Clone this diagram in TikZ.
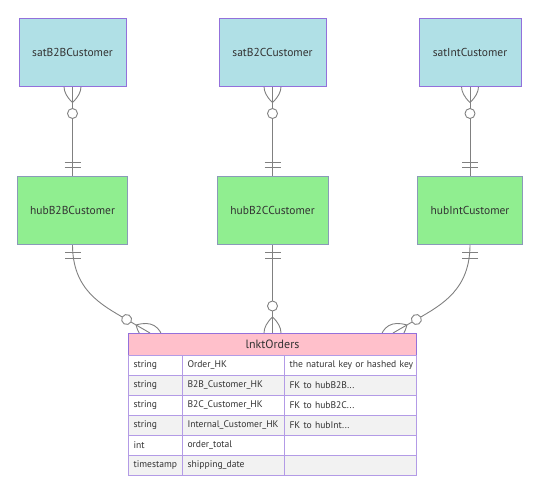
\documentclass[tikz,border=0pt]{standalone}
\usepackage{fontspec}
\setmainfont{PT Sans}
\usetikzlibrary{backgrounds}
\definecolor{satfill}{HTML}{B0E0E6}
\definecolor{hubfill}{HTML}{90EE90}
\definecolor{headfill}{HTML}{FFC0CB}
\definecolor{entline}{HTML}{9370DB}
\definecolor{hubline}{HTML}{8A9AB8}
\definecolor{rowgray}{HTML}{F2F2F2}
\definecolor{txt}{HTML}{333333}
\definecolor{relgray}{HTML}{808080}
\begin{document}
\begin{tikzpicture}[
  x=1pt, y=-1pt,
  ent/.style={rectangle, draw=entline, line width=1pt, minimum height=68pt,
              inner sep=0pt, text=txt, font=\fontsize{11.5}{14}\selectfont},
  sat/.style={ent, fill=satfill},
  hub/.style={ent, fill=hubfill, draw=hubline},
  head/.style={rectangle, draw=entline, line width=1pt, fill=headfill,
               minimum width=288pt, minimum height=22pt, inner sep=0pt,
               outer sep=0pt, text=txt, font=\fontsize{12}{14}\selectfont},
  cell/.style={rectangle, draw=entline!70, line width=0.8pt, fill=white,
               anchor=north west, inner xsep=5pt, inner ysep=0pt, outer sep=0pt,
               minimum height=20pt, align=left, text=txt,
               font=\fontsize{9.6}{11}\selectfont},
  even/.style={fill=rowgray},
  ca/.style={cell, text width=44pt},
  cb/.style={cell, text width=92pt},
  cc/.style={cell, text width=122pt},
  rel/.style={draw=relgray, line width=0.9pt},
  zmany/.pic={
    \draw[rel] (16,0) .. controls (5.33,11.33) and (-5.33,11.33) .. (-16,0)
               .. controls (-5.33,-11.33) and (5.33,-11.33) .. (16,0);
    \draw[rel, fill=white] (27,0) circle (5pt);
  },
  onlyone/.pic={
    \draw[rel] (8,-8) -- (8,8) (13.5,-8) -- (13.5,8);
  },
]
  \useasboundingbox (0,0) rectangle (540,493);
  \node[sat, minimum width=107pt] (satB2B) at (72.5,52) {satB2BCustomer};
  \node[sat, minimum width=107pt] (satB2C) at (272.5,52) {satB2CCustomer};
  \node[sat, minimum width=102pt] (satInt) at (470,52) {satIntCustomer};
  \node[hub, minimum width=110pt] (hubB2B) at (72.5,210) {hubB2BCustomer};
  \node[hub, minimum width=111pt] (hubB2C) at (272.5,210) {hubB2CCustomer};
  \node[hub, minimum width=105pt] (hubInt) at (470,210) {hubIntCustomer};
  % link table
  \node[head] (orders) at (272.5,344) {lnktOrders};
  \node[ca] (r1a) at (orders.south west) {string};
  \node[cb] (r1b) at (r1a.north east) {Order\_HK};
  \node[cc] (r1c) at (r1b.north east) {\mbox{the natural key or hashed key}};
  \node[ca, even] (r2a) at (r1a.south west) {string};
  \node[cb, even] (r2b) at (r2a.north east) {B2B\_Customer\_HK};
  \node[cc, even] (r2c) at (r2b.north east) {FK to hubB2B...};
  \node[ca] (r3a) at (r2a.south west) {string};
  \node[cb] (r3b) at (r3a.north east) {B2C\_Customer\_HK};
  \node[cc] (r3c) at (r3b.north east) {FK to hubB2C...};
  \node[ca, even] (r4a) at (r3a.south west) {string};
  \node[cb, even] (r4b) at (r4a.north east) {Internal\_Customer\_HK};
  \node[cc, even] (r4c) at (r4b.north east) {FK to hubInt...};
  \node[ca] (r5a) at (r4a.south west) {int};
  \node[cb] (r5b) at (r5a.north east) {order\_total};
  \node[cc] (r5c) at (r5b.north east) {};
  \node[ca, even] (r6a) at (r5a.south west) {timestamp};
  \node[cb, even] (r6b) at (r6a.north east) {shipping\_date};
  \node[cc, even] (r6c) at (r6b.north east) {};
  \coordinate (inB2B) at (150,333);
  \coordinate (oB2B) at (126.6,319.5);
  \coordinate (inInt) at (393,333);
  \coordinate (oInt) at (416.4,319.5);
  \begin{scope}[on background layer]
    \draw[rel] (satB2B.south) -- (hubB2B.north);
    \draw[rel] (satB2C.south) -- (hubB2C.north);
    \draw[rel] (satInt.south) -- (hubInt.north);
    \draw[rel] (hubB2B.south) .. controls +(0,45) and +(-26,-15) .. (oB2B) -- (inB2B);
    \draw[rel] (hubB2C.south) -- (orders.north);
    \draw[rel] (hubInt.south) .. controls +(0,45) and +(26,-15) .. (oInt) -- (inInt);
    \pic[rotate=-90] at (satB2B.south) {zmany};
    \pic[rotate=-90] at (satB2C.south) {zmany};
    \pic[rotate=-90] at (satInt.south) {zmany};
    \pic[rotate=90] at (hubB2B.north) {onlyone};
    \pic[rotate=90] at (hubB2C.north) {onlyone};
    \pic[rotate=90] at (hubInt.north) {onlyone};
    \pic[rotate=-90] at (hubB2B.south) {onlyone};
    \pic[rotate=-90] at (hubB2C.south) {onlyone};
    \pic[rotate=-90] at (hubInt.south) {onlyone};
    \pic[rotate=150] at (inB2B) {zmany};
    \pic[rotate=90] at (orders.north) {zmany};
    \pic[rotate=30] at (inInt) {zmany};
  \end{scope}
\end{tikzpicture}
\end{document}
